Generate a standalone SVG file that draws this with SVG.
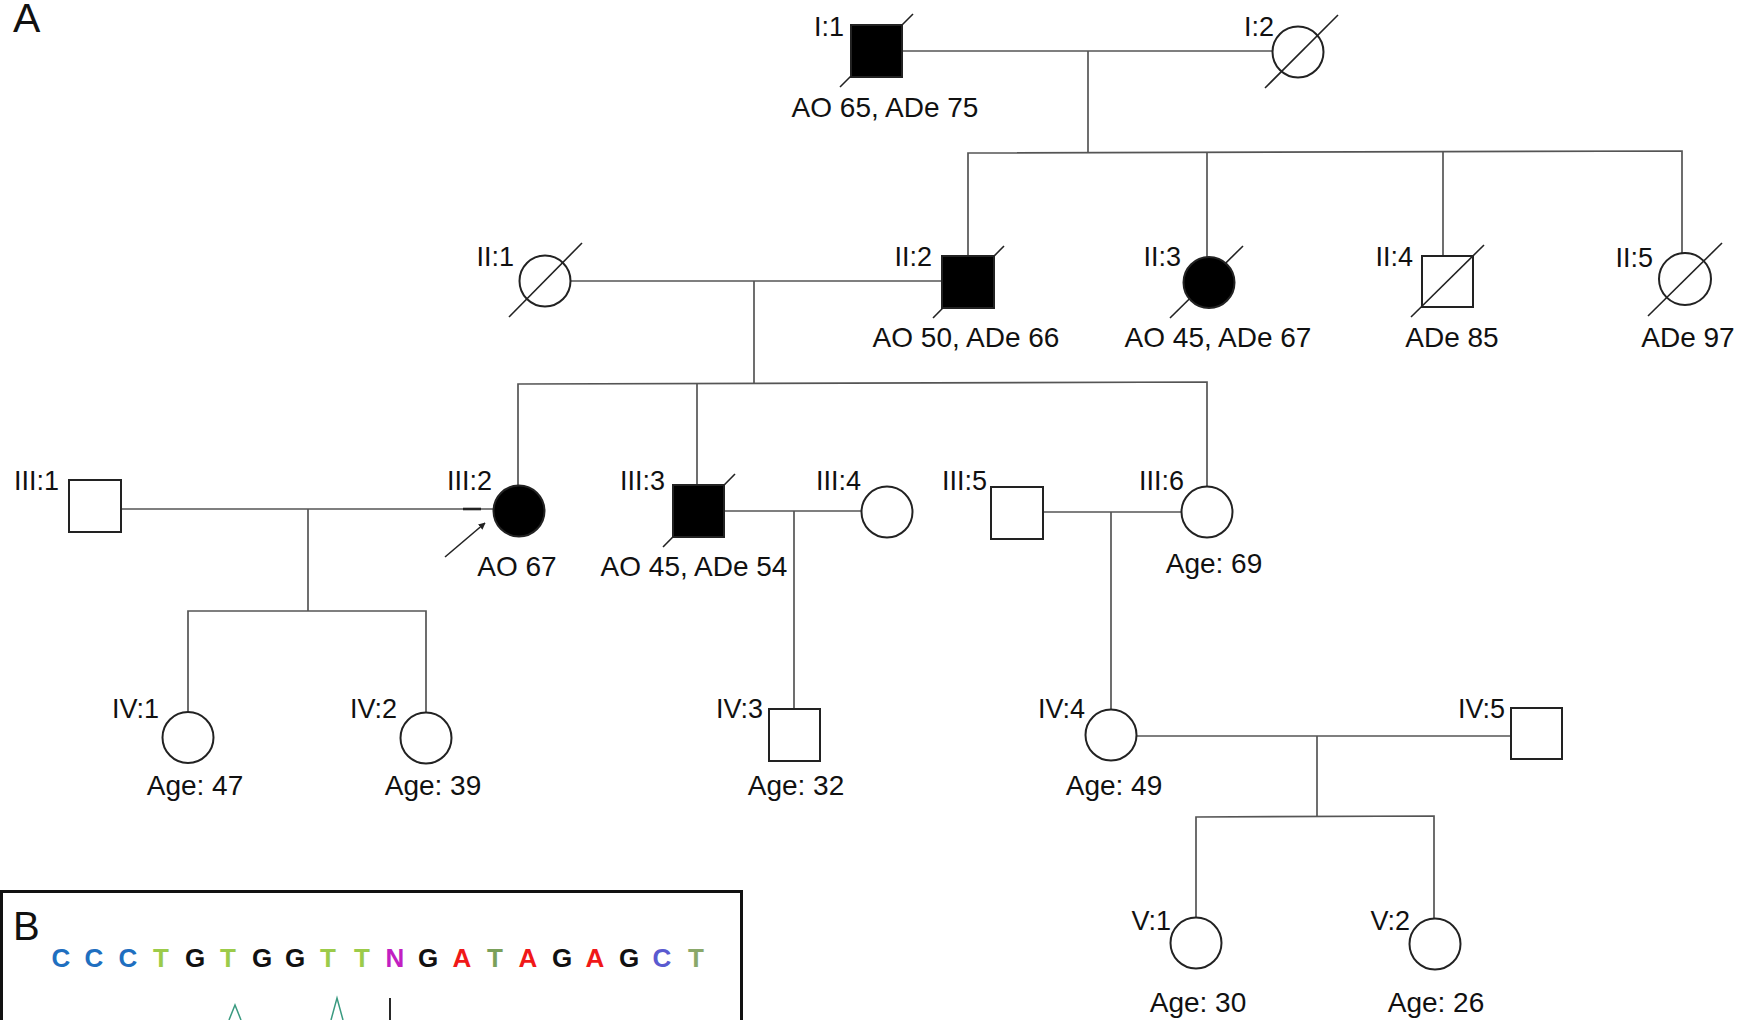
<svg xmlns="http://www.w3.org/2000/svg" width="1742" height="1020" viewBox="0 0 1742 1020">
<style>
text{font-family:"Liberation Sans",Arial,sans-serif;fill:#111}
.id{font-size:27px;text-anchor:end}
.ann{font-size:28px;text-anchor:middle}
.panel{font-size:41px}
.sym{stroke:#222;stroke-width:2;fill:#fff}
.aff{fill:#000}
.dec{stroke:#222;stroke-width:1.6}
#connectors line,#connectors polyline{stroke:#555;stroke-width:1.7;fill:none}
.seq{font-size:26px;font-weight:bold;text-anchor:middle}
</style>
<defs>
<marker id="ah" viewBox="0 0 10 10" refX="9" refY="5" markerWidth="7" markerHeight="7" orient="auto" markerUnits="userSpaceOnUse">
<path d="M0,0 L10,5 L0,10 z" fill="#222"/>
</marker>
</defs>
<rect width="1742" height="1020" fill="#fff"/>
<text class="panel" x="13" y="32">A</text>

<g id="connectors">
<line x1="902" y1="51" x2="1273" y2="51"/>
<line x1="1088" y1="51" x2="1088" y2="152"/>
<polyline points="968,256 968,153 1682,151 1682,253"/>
<line x1="1207" y1="152" x2="1207" y2="257"/>
<line x1="1443" y1="152" x2="1443" y2="256"/>
<line x1="570" y1="281" x2="942" y2="281"/>
<line x1="754" y1="281" x2="754" y2="383"/>
<polyline points="518,486 518,384 1207,382 1207,487"/>
<line x1="697" y1="383" x2="697" y2="485"/>
<line x1="121" y1="509" x2="494" y2="509"/>
<line x1="308" y1="509" x2="308" y2="611"/>
<polyline points="188,712 188,611 426,611 426,712"/>
<line x1="724" y1="511" x2="861" y2="511"/>
<line x1="794" y1="511" x2="794" y2="709"/>
<line x1="1043" y1="512" x2="1182" y2="512"/>
<line x1="1111" y1="512" x2="1111" y2="709"/>
<line x1="1136" y1="736" x2="1511" y2="736"/>
<line x1="1317" y1="736" x2="1317" y2="816"/>
<polyline points="1196,918 1196,817 1434,816 1434,919"/>
<line x1="463" y1="509" x2="481" y2="509" style="stroke:#222;stroke-width:2.6"/>
<line x1="445" y1="557" x2="485" y2="523" style="stroke:#222;stroke-width:1.6" marker-end="url(#ah)"/>
</g>

<g id="I-1"><line class="dec" x1="840" y1="87" x2="913" y2="14"/><rect class="sym aff" x="851" y="25" width="51" height="52"/><text class="id" x="844" y="36">I:1</text><text class="ann" x="885" y="117">AO 65, ADe 75</text></g>
<g id="I-2"><circle class="sym" cx="1298" cy="52" r="25.5"/><line class="dec" x1="1265" y1="88" x2="1338" y2="15"/><text class="id" x="1274" y="36">I:2</text></g>

<g id="II-1"><circle class="sym" cx="545" cy="281" r="25.5"/><line class="dec" x1="509" y1="317" x2="582" y2="243"/><text class="id" x="514" y="266">II:1</text></g>
<g id="II-2"><line class="dec" x1="933" y1="318" x2="1004" y2="246"/><rect class="sym aff" x="942" y="256" width="52" height="52"/><text class="id" x="932" y="266">II:2</text><text class="ann" x="966" y="347">AO 50, ADe 66</text></g>
<g id="II-3"><line class="dec" x1="1170" y1="318" x2="1243" y2="246"/><circle class="sym aff" cx="1209" cy="282.5" r="25.5"/><text class="id" x="1181" y="266">II:3</text><text class="ann" x="1218" y="347">AO 45, ADe 67</text></g>
<g id="II-4"><rect class="sym" x="1422" y="256" width="51" height="51"/><line class="dec" x1="1411" y1="317" x2="1484" y2="245"/><text class="id" x="1413" y="266">II:4</text><text class="ann" x="1452" y="347">ADe 85</text></g>
<g id="II-5"><circle class="sym" cx="1685" cy="279" r="26"/><line class="dec" x1="1648" y1="316" x2="1722" y2="243"/><text class="id" x="1653" y="267">II:5</text><text class="ann" x="1688" y="347">ADe 97</text></g>

<g id="III-1"><rect class="sym" x="69" y="480" width="52" height="52"/><text class="id" x="59" y="490">III:1</text></g>
<g id="III-2"><circle class="sym aff" cx="519" cy="511" r="25.5"/><text class="id" x="492" y="490">III:2</text><text class="ann" x="517" y="576">AO 67</text></g>
<g id="III-3"><line class="dec" x1="663" y1="547" x2="735" y2="474"/><rect class="sym aff" x="673" y="485" width="51" height="52"/><text class="id" x="665" y="490">III:3</text><text class="ann" x="694" y="576">AO 45, ADe 54</text></g>
<g id="III-4"><circle class="sym" cx="887" cy="512" r="25.5"/><text class="id" x="861" y="490">III:4</text></g>
<g id="III-5"><rect class="sym" x="991" y="487" width="52" height="52"/><text class="id" x="987" y="490">III:5</text></g>
<g id="III-6"><circle class="sym" cx="1207" cy="512" r="25.5"/><text class="id" x="1184" y="490">III:6</text><text class="ann" x="1214" y="573">Age: 69</text></g>

<g id="IV-1"><circle class="sym" cx="188" cy="737.5" r="25.5"/><text class="id" x="159" y="718">IV:1</text><text class="ann" x="195" y="795">Age: 47</text></g>
<g id="IV-2"><circle class="sym" cx="426" cy="738" r="25.5"/><text class="id" x="397" y="718">IV:2</text><text class="ann" x="433" y="795">Age: 39</text></g>
<g id="IV-3"><rect class="sym" x="769" y="709" width="51" height="52"/><text class="id" x="763" y="718">IV:3</text><text class="ann" x="796" y="795">Age: 32</text></g>
<g id="IV-4"><circle class="sym" cx="1111" cy="735" r="25.5"/><text class="id" x="1085" y="718">IV:4</text><text class="ann" x="1114" y="795">Age: 49</text></g>
<g id="IV-5"><rect class="sym" x="1511" y="708" width="51" height="51"/><text class="id" x="1505" y="718">IV:5</text></g>

<g id="V-1"><circle class="sym" cx="1196" cy="943" r="25.5"/><text class="id" x="1171" y="930">V:1</text><text class="ann" x="1198" y="1012">Age: 30</text></g>
<g id="V-2"><circle class="sym" cx="1435" cy="944" r="25.5"/><text class="id" x="1410" y="930">V:2</text><text class="ann" x="1436" y="1012">Age: 26</text></g>

<g id="panel-B">
<rect x="1.5" y="891.5" width="740" height="140" fill="none" stroke="#111" stroke-width="3"/>
<text x="13" y="940" style="font-size:40px">B</text>
<g class="seq">
<text x="61" y="967" style="fill:#1f6fc0">C</text>
<text x="94" y="967" style="fill:#1f6fc0">C</text>
<text x="128" y="967" style="fill:#1f6fc0">C</text>
<text x="161" y="967" style="fill:#9ccb4a">T</text>
<text x="195" y="967" style="fill:#111">G</text>
<text x="228" y="967" style="fill:#9ccb4a">T</text>
<text x="262" y="967" style="fill:#111">G</text>
<text x="295" y="967" style="fill:#111">G</text>
<text x="328" y="967" style="fill:#9ccb4a">T</text>
<text x="362" y="967" style="fill:#9ccb4a">T</text>
<text x="395" y="967" style="fill:#c21fc2">N</text>
<text x="428" y="967" style="fill:#111">G</text>
<text x="462" y="967" style="fill:#f01818">A</text>
<text x="495" y="967" style="fill:#7aa05a">T</text>
<text x="528" y="967" style="fill:#f01818">A</text>
<text x="562" y="967" style="fill:#111">G</text>
<text x="595" y="967" style="fill:#f01818">A</text>
<text x="629" y="967" style="fill:#111">G</text>
<text x="662" y="967" style="fill:#5a5ad0">C</text>
<text x="696" y="967" style="fill:#8aa86a">T</text>
</g>
<path d="M229,1020 L235,1005 L241,1020 M331,1020 L337,998 L343,1020" fill="none" stroke="#3a9a80" stroke-width="1.5"/>
<line x1="390" y1="998" x2="390" y2="1020" stroke="#111" stroke-width="1.8"/>
</g>
</svg>
